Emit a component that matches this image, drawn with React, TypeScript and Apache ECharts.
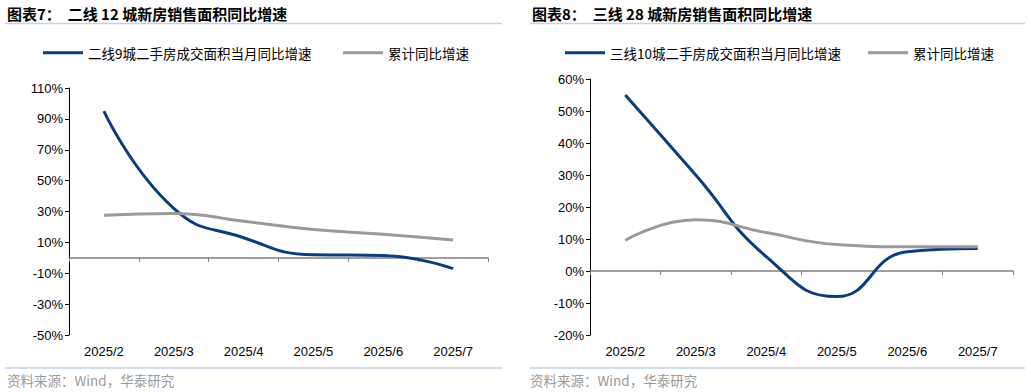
import React, { useEffect, useRef } from "react";
import * as echarts from "echarts";

const categories = ["2025/2", "2025/3", "2025/4", "2025/5", "2025/6", "2025/7"];

const leftTitle = "图表7：  二线 12 城新房销售面积同比增速";
const rightTitle = "图表8：  三线 28 城新房销售面积同比增速";
const sourceText = "资料来源：Wind，华泰研究";

const leftMonthlyName = "二线9城二手房成交面积当月同比增速";
const rightMonthlyName = "三线10城二手房成交面积当月同比增速";
const cumulativeName = "累计同比增速";

const leftMonthly = [95, 32, 13, 2, 1.5, -7];
const leftCumulative = [27.6, 28.7, 23.7, 18.4, 15.3, 11.5];

const rightMonthly = [55, 30, 4.5, -8, 6, 7];
const rightCumulative = [9.6, 16, 12, 8.3, 7.6, 7.6];

const leftTicks = { min: -50, max: 110, interval: 20 };
const rightTicks = { min: -20, max: 60, interval: 10 };

const BLUE = "#0b3d7e";
const GRAY = "#9a9a9a";
const DIVIDER = "#c3d3e3";
const FONT = "'Liberation Sans', Arial, 'Noto Sans CJK SC', sans-serif";
const CJK = "'Noto Sans CJK SC', 'Liberation Sans', sans-serif";

export default function App() {
  const ref = useRef<HTMLDivElement>(null);
  useEffect(() => {
    if (!ref.current) return;
    const chart = echarts.init(ref.current, undefined, { renderer: "svg" });

    const yAxisCommon = (gridIndex: number, t: { min: number; max: number; interval: number }) => ({
      type: "value",
      gridIndex,
      min: t.min,
      max: t.max,
      interval: t.interval,
      axisLine: { show: true, lineStyle: { color: "#000", width: 1 } },
      axisTick: { show: true, length: 4, lineStyle: { color: "#000" } },
      splitLine: { show: false },
      axisLabel: {
        formatter: "{value}%",
        color: "#000",
        fontSize: 13,
        fontFamily: FONT,
        margin: 6,
      },
    });

    const labelAxis = (gridIndex: number) => ({
      type: "category",
      gridIndex,
      data: categories,
      position: "bottom",
      axisLine: { show: false, onZero: false },
      axisTick: { show: false },
      axisLabel: { color: "#000", fontSize: 13, fontFamily: FONT, margin: 10 },
    });

    const zeroAxis = (gridIndex: number) => ({
      type: "category",
      gridIndex,
      data: categories,
      position: "top",
      axisLine: { show: true, onZero: true, lineStyle: { color: "#7f7f7f", width: 1.5 } },
      axisTick: { show: true, inside: true, length: 4, lineStyle: { color: "#7f7f7f", width: 1 } },
      axisLabel: { show: false },
    });

    const line = (name: string, data: number[], color: string, xIdx: number, yIdx: number) => ({
      name,
      type: "line",
      xAxisIndex: xIdx,
      yAxisIndex: yIdx,
      data,
      smooth: true,
      symbol: "none",
      lineStyle: { color, width: 3 },
      itemStyle: { color },
    });

    const legendItem = (left: number, name: string) => ({
      left,
      top: 46,
      icon: "rect",
      itemWidth: 40,
      itemHeight: 3,
      padding: 0,
      data: [name],
      textStyle: { fontSize: 13.5, fontFamily: CJK, color: "#000", padding: [0, 0, 0, 0] },
    });

    const divider = (x1: number, x2: number, y: number) => ({
      type: "line",
      shape: { x1, y1: y, x2, y2: y },
      style: { stroke: DIVIDER, lineWidth: 1.5 },
    });

    const text = (x: number, y: number, t: string, style: any) => ({
      type: "text",
      x,
      y,
      style: { text: t, textVerticalAlign: "middle", ...style },
    });

    chart.setOption({
      animation: false,
      grid: [
        { left: 69, top: 88, width: 419, height: 247 },
        { left: 590, top: 79, width: 423, height: 256 },
      ],
      xAxis: [labelAxis(0), zeroAxis(0), labelAxis(1), zeroAxis(1)],
      yAxis: [yAxisCommon(0, leftTicks), yAxisCommon(1, rightTicks)],
      legend: [
        legendItem(43, leftMonthlyName),
        legendItem(343, cumulativeName),
        legendItem(565, rightMonthlyName),
        legendItem(868, cumulativeName),
      ],
      series: [
        line(leftMonthlyName, leftMonthly, BLUE, 0, 0),
        line(cumulativeName, leftCumulative, GRAY, 0, 0),
        line(rightMonthlyName, rightMonthly, BLUE, 2, 1),
        line(cumulativeName, rightCumulative, GRAY, 2, 1),
      ],
      graphic: [
        text(7, 13, leftTitle, { fontSize: 15, fontWeight: "bold", fontFamily: CJK, fill: "#000" }),
        text(532, 13, rightTitle, { fontSize: 15, fontWeight: "bold", fontFamily: CJK, fill: "#000" }),
        divider(5, 502, 23.5),
        divider(530, 1025, 23.5),
        divider(5, 502, 368),
        divider(530, 1025, 368),
        text(7, 380, sourceText, { fontSize: 13.5, fontFamily: CJK, fill: "#9a9a9a" }),
        text(530, 380, sourceText, { fontSize: 13.5, fontFamily: CJK, fill: "#9a9a9a" }),
      ],
    });
    return () => chart.dispose();
  }, []);

  return (
    <div
      ref={ref}
      style={{ position: "fixed", left: 0, top: 0, width: 1031, height: 392, background: "#fff" }}
    />
  );
}
